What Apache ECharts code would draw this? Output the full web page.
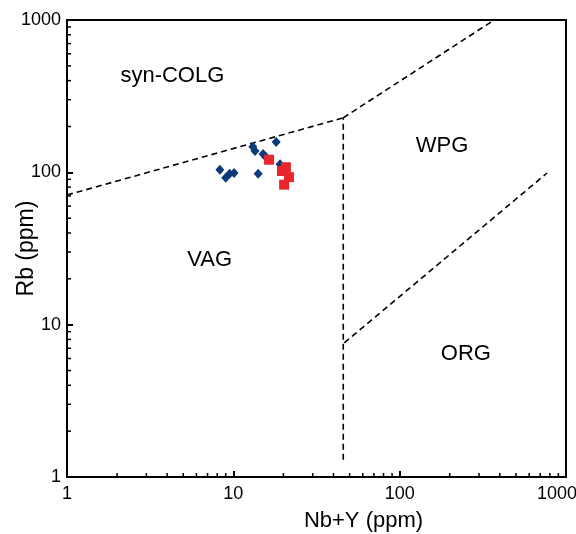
<!DOCTYPE html>
<html>
<head>
<meta charset="utf-8">
<script src="https://cdn.jsdelivr.net/npm/echarts@6/dist/echarts.min.js"></script>
<style>html,body{margin:0;padding:0;background:#fff}#c{width:576px;height:534px}</style>
</head>
<body>
<div id="c"></div>
<script>
// Sample data (Nb+Y, Rb)
const blueSamples = [
  [8.3, 104], [9.0, 92], [9.5, 98], [10.1, 99],
  [13.1, 147], [13.5, 138], [15.1, 132], [15.7, 126],
  [18.1, 158], [14.1, 98], [19.1, 113]
];
const redSamples = [
  [16.4, 121], [20.7, 108], [19.6, 102], [21.6, 93], [20.2, 83]
];
// Discrimination boundaries (Pearce et al. 1984)
const boundSynVag = [[1, 71], [45.8, 228]];
const boundSynWpg = [[45.8, 228], [370, 1000]];
const boundVertical = [[45.8, 1.3], [45.8, 228]];
const boundWpgOrg = [[46.5, 7.6], [770, 99]];
// Field labels
const fieldLabels = [
  {name: 'syn-COLG', value: [4.3, 430]},
  {name: 'WPG', value: [180, 149]},
  {name: 'VAG', value: [7.2, 26.6]},
  {name: 'ORG', value: [250, 6.4]}
];
// Minor tick values
const minorTicks = [2,3,4,5,6,7,8,9,20,30,40,50,60,70,80,90,200,300,400,500,600,700,800,900];

const chart = echarts.init(document.getElementById('c'), null, {renderer: 'canvas'});
const font = 'Liberation Sans, Arial, Helvetica, sans-serif';
const dashed = (data) => ({
  type: 'line', data, showSymbol: false, symbol: 'none', silent: true,
  lineStyle: {color: '#000', width: 1.6, type: [6, 4], opacity: 1}, z: 3
});
chart.setOption({
  animation: false,
  backgroundColor: '#fff',
  textStyle: {fontFamily: font},
  grid: {left: 67, right: 10, top: 20, bottom: 57, containLabel: false, outerBoundsMode: 'none',
         show: true, borderColor: '#000', borderWidth: 2, backgroundColor: 'transparent'},
  xAxis: {
    type: 'log', logBase: 10, min: 1, max: 1000,
    name: 'Nb+Y (ppm)', nameLocation: 'middle', nameGap: 33, nameMoveOverlap: false,
    nameTextStyle: {fontSize: 22, color: '#000', fontFamily: font, padding: [0, 0, 0, 94]},
    axisLine: {lineStyle: {color: '#000', width: 2}},
    axisTick: {inside: true, length: 6, lineStyle: {color: '#000', width: 2}},
    axisLabel: {fontSize: 18, color: '#000', margin: 8, fontFamily: font,
                formatter: v => v >= 1000 ? '{r|' + Math.round(v) + '}' : String(Math.round(v)),
                rich: {r: {fontSize: 18, color: '#000', fontFamily: font, padding: [0, 18, 0, 0]}}},
    splitLine: {show: false}
  },
  yAxis: {
    type: 'log', logBase: 10, min: 1, max: 1000,
    name: 'Rb (ppm)', nameLocation: 'middle', nameGap: 29, nameMoveOverlap: false,
    nameTextStyle: {fontSize: 23, color: '#000', fontFamily: font},
    axisLine: {lineStyle: {color: '#000', width: 2}},
    axisTick: {inside: true, length: 6, lineStyle: {color: '#000', width: 2}},
    axisLabel: {fontSize: 18, color: '#000', margin: 6, fontFamily: font,
                formatter: v => String(Math.round(v))},
    splitLine: {show: false}
  },
  series: [
    dashed(boundSynVag), dashed(boundSynWpg), dashed(boundVertical), dashed(boundWpgOrg),
    {
      type: 'custom', silent: true, z: 4,
      data: minorTicks.map(v => [v]),
      renderItem: (params, api) => {
        const p = api.coord([api.value(0), 1]);
        return {type: 'line', shape: {x1: p[0], y1: p[1], x2: p[0], y2: p[1] - 4}, style: {stroke: '#000', lineWidth: 1.5}};
      }
    },
    {
      type: 'custom', silent: true, z: 4,
      data: minorTicks.map(v => [v]),
      renderItem: (params, api) => {
        const p = api.coord([1, api.value(0)]);
        return {type: 'line', shape: {x1: p[0], y1: p[1], x2: p[0] + 4, y2: p[1]}, style: {stroke: '#000', lineWidth: 1.5}};
      }
    },
    {
      type: 'scatter', data: blueSamples, symbol: 'diamond', symbolSize: [9, 10],
      itemStyle: {color: '#0d3a78', opacity: 1}, z: 5
    },
    {
      type: 'scatter', data: redSamples, symbol: 'rect', symbolSize: 10,
      itemStyle: {color: '#e8262b', opacity: 1}, z: 6
    },
    {
      type: 'scatter', data: fieldLabels, symbolSize: 1, silent: true,
      itemStyle: {color: 'rgba(0,0,0,0)', opacity: 1},
      label: {show: true, position: 'inside', formatter: '{b}', fontSize: 22, color: '#000', opacity: 1, fontFamily: font}
    }
  ]
});
</script>
</body>
</html>
